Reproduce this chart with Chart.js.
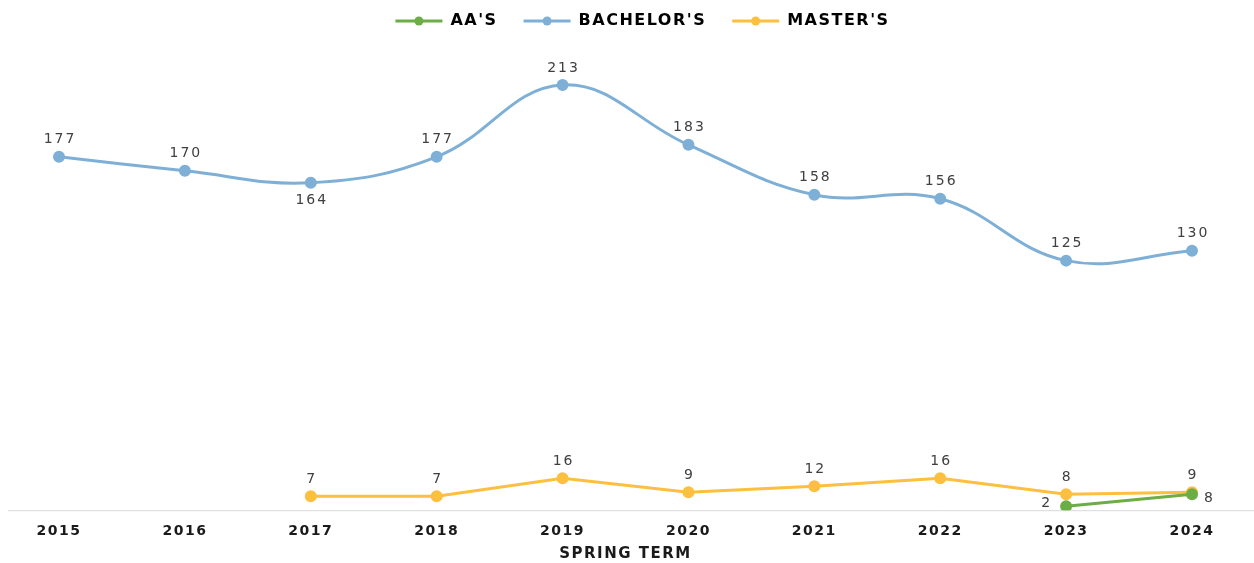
<!DOCTYPE html>
<html>
<head>
<meta charset="utf-8">
<script src="https://cdn.jsdelivr.net/npm/chart.js@4"></script>
<style>
  html, body { margin: 0; padding: 0; background: #fff; }
  #wrap { width: 1254px; height: 563px; }
</style>
</head>
<body>
<div id="wrap"><canvas id="myChart"></canvas></div>
<script>
// chart data
const years = ["2015", "2016", "2017", "2018", "2019", "2020", "2021", "2022", "2023", "2024"];
const aas = [null, null, null, null, null, null, null, null, 2, 8];
const bachelors = [177, 170, 164, 177, 213, 183, 158, 156, 125, 130];
const masters = [null, null, 7, 7, 16, 9, 12, 16, 8, 9];

const green = "#6cad45";
const blue = "#7eb0d7";
const yellow = "#fcbf3f";

// wide-ish text everywhere, like the original
const spacing = {
  id: "spacing",
  beforeLayout(chart) { chart.ctx.letterSpacing = "1.5px"; },
  beforeDraw(chart) { chart.ctx.letterSpacing = "1.5px"; },
  afterInit(chart) {
    // a bit more room under the legend
    const orig = chart.legend.fit;
    chart.legend.fit = function () {
      orig.call(this);
      this.height += 8;
    };
  },
  afterLayout(chart) {
    // legend sits a little right of centre in the original
    chart.legend.left += 17;
    chart.legend.right += 17;
  }
};

// draws the value next to each point
const valueLabels = {
  id: "valueLabels",
  afterDatasetsDraw(chart) {
    const ctx = chart.ctx;
    ctx.save();
    ctx.letterSpacing = "2px";
    ctx.font = "14px 'DejaVu Sans'";
    ctx.fillStyle = "#404040";
    chart.data.datasets.forEach((ds, i) => {
      const meta = chart.getDatasetMeta(i);
      meta.data.forEach((pt, j) => {
        const v = ds.data[j];
        if (v === null) return;
        let x = pt.x + 1, y = pt.y - 10;
        ctx.textAlign = "center";
        ctx.textBaseline = "bottom";
        if (i === 1 && j === 2) { y = pt.y + 11; ctx.textBaseline = "top"; }
        if (i === 0 && j === 8) { x = pt.x - 14; y = pt.y - 3; ctx.textAlign = "right"; ctx.textBaseline = "middle"; }
        if (i === 0 && j === 9) { x = pt.x + 12; y = pt.y + 4; ctx.textAlign = "left"; ctx.textBaseline = "middle"; }
        ctx.fillText(String(v), x, y);
      });
    });
    ctx.restore();
  }
};

// baseline across the whole width, and dots on the legend lines
const extras = {
  id: "extras",
  beforeDatasetsDraw(chart) {
    const ctx = chart.ctx;
    const y0 = chart.scales.y.getPixelForValue(0);
    ctx.save();
    ctx.strokeStyle = "#d9d9d9";
    ctx.lineWidth = 1;
    ctx.beginPath();
    ctx.moveTo(8, y0 + 0.5);
    ctx.lineTo(1254, y0 + 0.5);
    ctx.stroke();
    ctx.restore();
  },
  afterDraw(chart) {
    const ctx = chart.ctx;
    const boxes = chart.legend.legendHitBoxes;
    const items = chart.legend.legendItems;
    ctx.save();
    boxes.forEach((b, i) => {
      const w = chart.options.plugins.legend.labels.boxWidth;
      ctx.fillStyle = items[i].strokeStyle;
      ctx.beginPath();
      ctx.arc(b.left + w / 2, b.top + b.height / 2, 4.5, 0, Math.PI * 2);
      ctx.fill();
    });
    ctx.restore();
  }
};

const ctx = document.getElementById("myChart").getContext("2d");

const myChart = new Chart(ctx, {
  type: "line",
  data: {
    labels: years,
    datasets: [
      {
        label: "AA'S",
        data: aas,
        borderColor: green,
        backgroundColor: green,
        borderWidth: 3,
        pointRadius: 4.5,
        tension: 0
      },
      {
        label: "BACHELOR'S",
        data: bachelors,
        borderColor: blue,
        backgroundColor: blue,
        borderWidth: 3,
        pointRadius: 4.5,
        tension: 0.4
      },
      {
        label: "MASTER'S",
        data: masters,
        borderColor: yellow,
        backgroundColor: yellow,
        borderWidth: 3,
        pointRadius: 4.5,
        tension: 0
      }
    ]
  },
  options: {
    responsive: true,
    maintainAspectRatio: false,
    animation: false,
    layout: { padding: { left: 59, right: 62, top: -13, bottom: 0 } },
    plugins: {
      legend: {
        position: "top",
        labels: {
          boxWidth: 47,
          boxHeight: 3,
          padding: 26,
          color: "#1a1a1a",
          font: { family: "'DejaVu Sans'", size: 16, weight: "bold" },
          generateLabels(chart) {
            return chart.data.datasets.map((ds, i) => ({
              text: ds.label,
              fillStyle: ds.borderColor,
              strokeStyle: ds.borderColor,
              lineWidth: 0,
              datasetIndex: i
            }));
          }
        }
      },
      tooltip: { enabled: false }
    },
    scales: {
      x: {
        offset: false,
        grid: { display: false, drawTicks: false },
        border: { display: false },
        ticks: {
          color: "#1a1a1a",
          padding: 13,
          maxRotation: 0,
          font: { family: "'DejaVu Sans'", size: 14, weight: "bold" }
        },
        title: {
          display: true,
          text: "SPRING TERM",
          color: "#1a1a1a",
          padding: { top: -8, bottom: 0 },
          font: { family: "'DejaVu Sans'", size: 15, weight: "bold" }
        }
      },
      y: {
        display: false,
        min: 0,
        max: 232
      }
    }
  },
  plugins: [spacing, valueLabels, extras]
});
</script>
</body>
</html>
